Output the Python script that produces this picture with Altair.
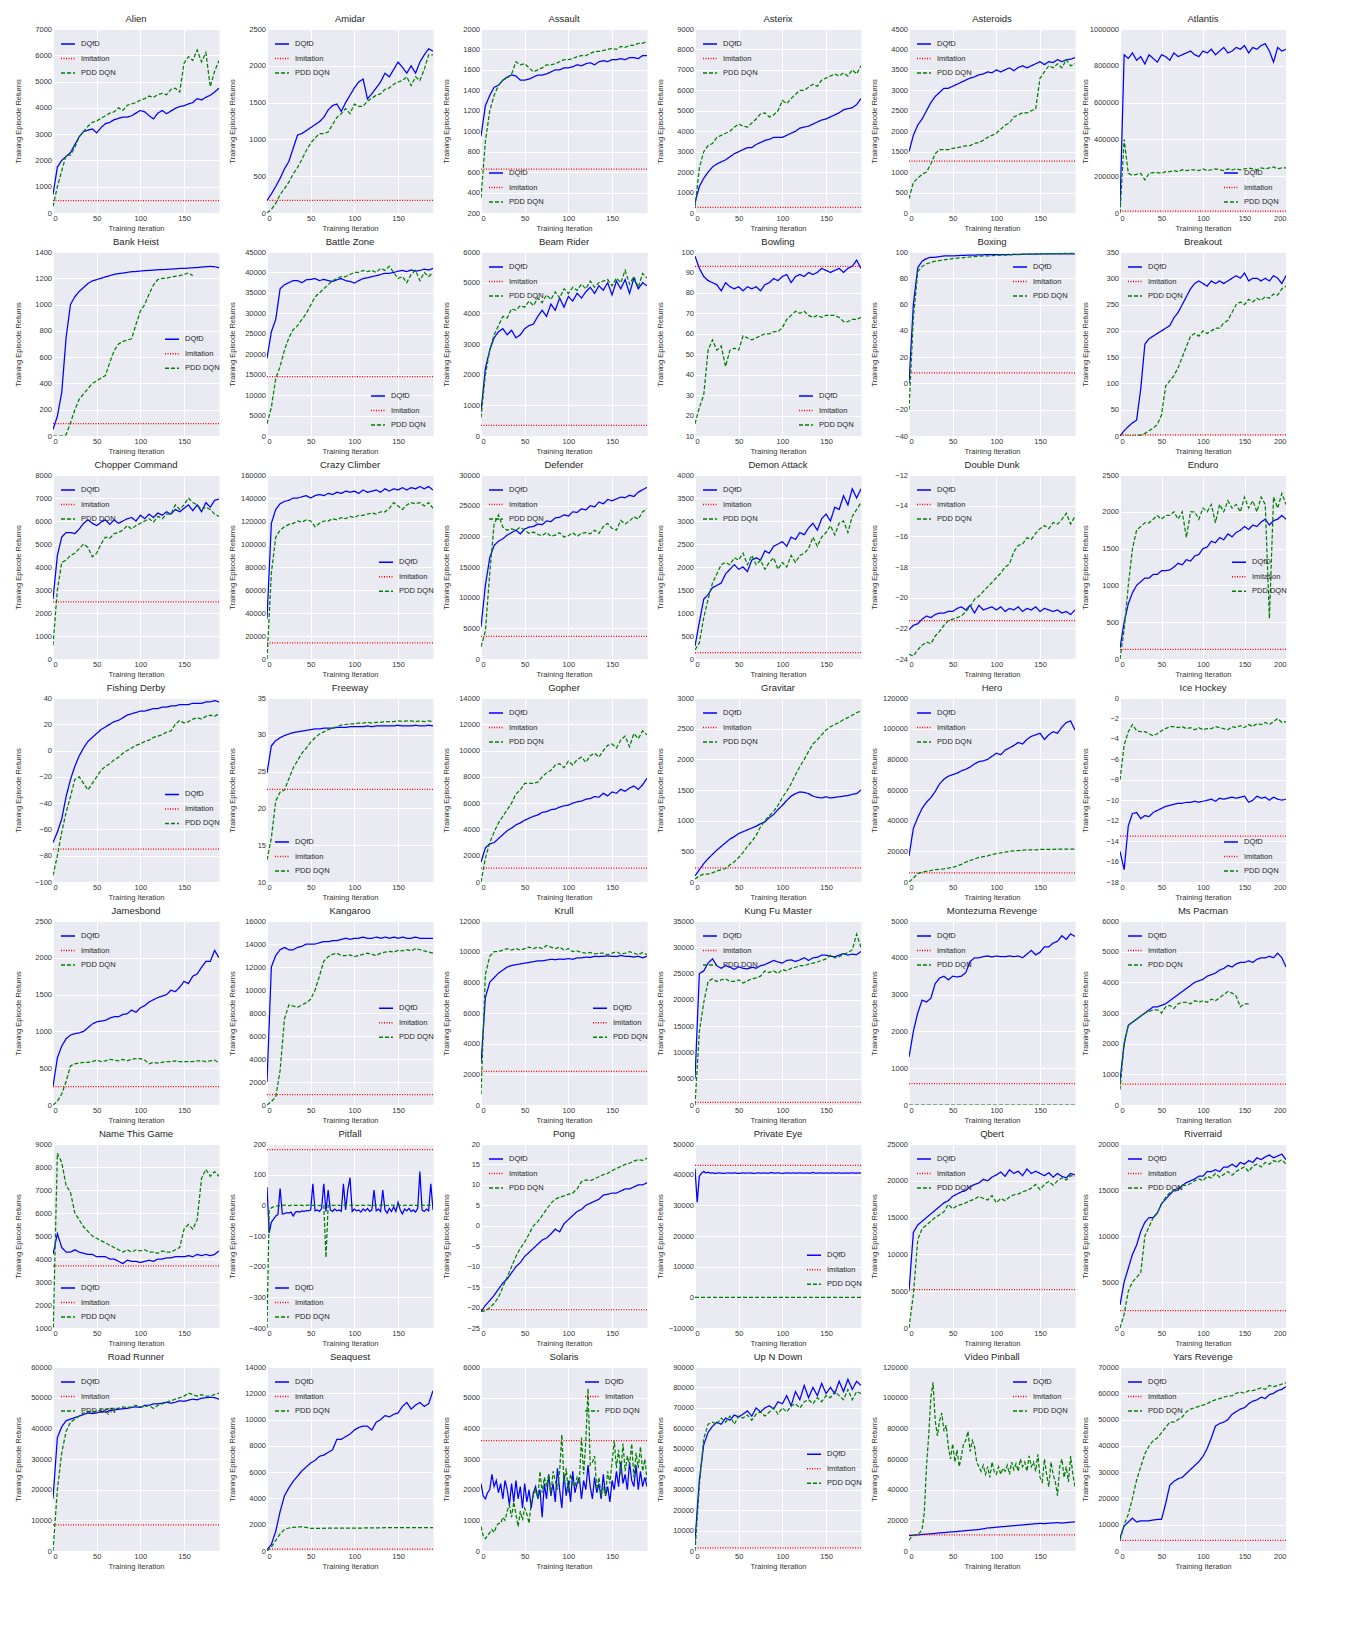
import altair as alt
import pandas as pd

FONT = "Liberation Sans"
SERIES = ["DQfD", "Imitation", "PDD DQN"]
COLORS = ["#0000ff", "#ff0000", "#008000"]
DASHES = [[1, 0], [1, 1.5], [4, 2]]
W, H = 166, 184

# ---------------- data ----------------
ALIEN_DQFD = [700,1750,2000,2150,2300,2600,2900,3100,3150,3200,3050,3250,3400,3450,3550,3600,3650,3650,3700,3800,3900,3850,3700,3580,3800,3900,3780,3880,3980,4050,4080,4150,4200,4350,4300,4400,4480,4600,4750]
ALIEN_PDD = [250,1000,1600,2200,2200,2500,2900,3100,3300,3450,3500,3600,3700,3800,3850,4000,3900,4100,4150,4200,4300,4350,4450,4400,4500,4550,4500,4700,4750,4600,5700,5950,5800,6200,5750,6100,4800,5400,5800]
AMIDAR_DQFD = [170,260,360,470,600,700,880,1060,1080,1120,1160,1200,1240,1300,1400,1460,1480,1380,1500,1600,1700,1780,1820,1550,1620,1700,1780,1900,1850,1950,2050,1980,1900,2000,1900,2050,2150,2230,2200]
AMIDAR_PDD = [0,50,130,250,330,420,530,620,730,850,950,1020,1080,1080,1100,1200,1300,1350,1420,1350,1480,1450,1450,1520,1560,1600,1620,1680,1700,1750,1780,1800,1850,1730,1850,1800,1950,2150,2150]
ASSAULT_DQFD = [950,1250,1350,1430,1450,1500,1530,1550,1540,1500,1500,1510,1530,1550,1550,1560,1580,1600,1600,1620,1620,1630,1650,1640,1660,1670,1650,1680,1690,1680,1700,1700,1710,1700,1720,1720,1710,1740,1740]
ASSAULT_PDD = [350,900,1200,1350,1450,1500,1520,1560,1680,1650,1660,1620,1580,1600,1620,1650,1650,1660,1680,1700,1700,1710,1730,1740,1740,1760,1780,1780,1790,1800,1810,1800,1830,1820,1840,1840,1860,1860,1880]
ASTERIX_DQFD = [500,1300,1700,2000,2250,2400,2500,2600,2750,2900,3000,3100,3200,3200,3350,3450,3550,3600,3700,3700,3700,3800,3900,4000,4150,4200,4250,4350,4450,4550,4600,4700,4800,4900,5050,5100,5150,5300,5600]
ASTERIX_PDD = [300,2200,3000,3300,3400,3700,3800,3900,4000,4200,4350,4250,4200,4400,4600,4850,4900,4700,4800,5000,5500,5350,5600,5800,6000,6000,6150,6300,6200,6500,6600,6700,6800,6700,6850,6700,7000,6800,7200]
ASTEROIDS_DQFD = [1500,1900,2150,2300,2500,2700,2850,2950,3050,3050,3100,3150,3200,3250,3300,3330,3380,3400,3450,3430,3500,3450,3500,3550,3480,3560,3600,3550,3600,3650,3700,3630,3700,3680,3750,3700,3750,3760,3800]
ASTEROIDS_PDD = [350,750,850,950,1000,1200,1450,1550,1550,1550,1580,1600,1620,1640,1650,1700,1720,1780,1850,1900,1950,2050,2150,2200,2350,2400,2450,2450,2500,2550,3300,3450,3600,3550,3650,3550,3750,3600,3650]
ATLANTIS_DQFD = [30000,860000,840000,870000,830000,850000,810000,860000,840000,820000,860000,850000,830000,870000,850000,860000,870000,880000,860000,850000,880000,870000,890000,860000,880000,900000,870000,880000,900000,890000,910000,870000,900000,890000,910000,920000,880000,820000,900000,880000,890000]
ATLANTIS_PDD = [0,400000,215000,205000,210000,215000,180000,215000,220000,220000,215000,225000,225000,230000,225000,235000,230000,235000,235000,230000,240000,230000,235000,240000,235000,230000,240000,235000,240000,235000,240000,245000,240000,235000,245000,240000,245000,250000,240000,245000,245000]

BANKHEIST_DQFD = [50,150,330,750,1000,1060,1100,1130,1160,1180,1190,1200,1210,1220,1230,1235,1240,1245,1250,1252,1255,1258,1260,1262,1265,1265,1268,1270,1272,1275,1275,1278,1280,1282,1285,1288,1290,1288,1280]
BANKHEIST_PDD = [0,0,0,10,100,200,280,320,360,400,420,440,460,560,650,700,720,730,740,850,950,1000,1080,1150,1190,1200,1200,1210,1215,1220,1230,1240,1220]
BATTLEZONE_DQFD = [19000,25500,28500,36000,37000,37500,38000,38000,37500,38200,38300,38500,38000,38300,38000,37800,38200,38500,38000,37800,37400,38000,38500,38700,39000,39200,39500,39800,39800,40000,40300,40500,40200,40600,40300,40500,40800,40600,41000]
BATTLEZONE_PDD = [3000,7000,14000,17000,21000,24000,26000,27000,28500,30000,32000,34000,35000,36000,37000,38000,38500,39000,39000,39500,40000,40000,40500,40200,40500,40000,41000,40500,41500,40000,38500,39000,37500,39500,40500,38000,40000,39000,40000]
BEAMRIDER_DQFD = [800,2200,2800,3200,3400,3500,3300,3450,3200,3300,3500,3600,3650,3900,4100,3900,4300,4100,4500,4200,4550,4400,4650,4500,4700,4850,4650,4900,4750,5000,4600,5050,4800,5100,4650,5150,4800,5000,4900]
BEAMRIDER_PDD = [600,2000,2800,3300,3600,3900,3850,4150,4100,4250,4200,4400,4250,4500,4350,4600,4450,4700,4500,4800,4650,4850,4750,4950,4800,5050,4850,5000,5050,5100,4900,5150,5000,5400,4950,5200,4850,5300,5150]
BOWLING_DQFD = [98,92,88,86,85,84,81,85,83,82,83,81,83,82,83,81,84,85,87,86,88,89,85,88,89,88,90,89,90,92,91,90,91,92,90,92,93,96,92]
BOWLING_PDD = [16,24,30,52,57,52,54,44,52,53,52,59,58,57,58,59,60,60,61,61,63,67,69,71,70,71,69,68,69,68,69,69,69,68,66,66,67,67,68]
BOXING_DQFD = [0,60,88,93,95,96,96,96.5,97,97,97,97.2,97.4,97.5,97.6,97.7,97.8,97.9,98,98,98,98,98,98,98.2,98.2,98.3,98.3,98.4,98.4,98.5,98.5,98.5,98.5,98.5,98.5,98.5,98.5,98.5]
BOXING_PDD = [-20,50,85,89,91,92,93,93.5,94,94.5,95,95.3,95.6,96,96.2,96.5,96.8,97,97,97.2,97.5,97.6,97.7,97.8,98,98,98.2,98.3,98.4,98.5,98.5,98.6,98.7,98.8,98.8,98.9,99,99,99]
BREAKOUT_DQFD = [0,10,18,25,30,90,175,185,190,195,200,205,210,225,235,250,265,280,290,295,290,285,295,290,295,290,295,300,305,300,310,295,300,300,295,300,295,305,300,290,305]
BREAKOUT_PDD = [0,0,0,0,0,2,5,10,15,22,40,95,105,115,130,150,170,190,195,190,200,195,200,205,205,215,220,235,250,255,250,260,255,262,258,265,262,270,268,280,285]

CHOPPER_DQFD = [2600,4500,5300,5500,5500,5450,5650,5900,6050,5900,5800,5950,6050,5850,6050,5900,6000,6100,6150,6000,6250,6100,6300,6150,6350,6250,6400,6300,6500,6400,6550,6700,6450,6700,6400,6800,6600,6900,6950]
CHOPPER_PDD = [600,3000,4200,4300,4500,4600,4800,5000,4850,4450,4600,5000,5300,5250,5450,5500,5600,5800,5650,5800,5900,6000,6100,5950,6200,6100,6300,6300,6700,6500,6700,7000,6800,6700,6500,6600,6500,6300,6200]
CRAZY_DQFD = [35000,118000,130000,135000,137000,138000,140000,140000,141000,142000,140000,142000,143000,142000,144000,143000,145000,144000,146000,145000,146000,144000,147000,145000,146000,147000,145000,148000,146000,148000,147000,149000,147000,149000,148000,150000,148000,150000,147000]
CRAZY_PDD = [0,75000,106000,112000,115000,117000,118000,120000,119000,121000,120000,115000,118000,120000,120000,122000,121000,123000,122000,124000,123000,125000,125000,126000,127000,126000,128000,128000,131000,136000,133000,130000,134000,136000,135000,136000,133000,136000,131000]
DEFENDER_DQFD = [5200,12000,16500,18500,19200,19600,20200,20600,21000,20400,21200,21500,21600,22000,21900,22500,22400,23000,23100,23500,23300,24000,23900,24500,24300,25000,24800,25600,25300,26000,25800,26100,26400,26300,26700,26500,27200,27600,28000]
DEFENDER_PDD = [2000,4500,14000,22000,23500,21500,21000,21200,21000,21500,21000,20500,20700,20300,20100,20600,20000,20200,20600,19900,20100,20600,20000,20500,20600,20400,21000,20500,21600,22100,21300,21000,22600,22000,22500,23200,22800,24000,24500]
DEMON_DQFD = [280,800,1300,1400,1550,1600,1650,1850,1950,2050,1950,2000,1900,2150,2200,2150,2350,2300,2450,2500,2550,2450,2650,2600,2750,2700,2850,2950,2800,3050,3150,3000,3300,3250,3550,3350,3700,3500,3700]
DEMON_PDD = [200,350,900,1300,1650,1850,2050,2100,2050,2200,2150,2300,2050,2250,2050,2150,1950,2100,2200,1950,2100,2000,2250,2100,2250,2300,2400,2650,2450,2650,2750,2900,2700,2950,3000,2750,3100,3250,3400]
DOUBLEDUNK_DQFD = [-22.1,-21.8,-21.7,-21.4,-21.2,-21.3,-21.1,-21.0,-21.0,-20.9,-20.9,-20.7,-20.6,-20.8,-20.5,-21.0,-20.5,-20.8,-20.7,-20.6,-20.8,-20.6,-20.9,-20.7,-20.8,-20.6,-20.9,-20.7,-20.8,-20.6,-20.9,-20.7,-20.8,-20.9,-20.8,-21.0,-20.9,-21.1,-20.8]
DOUBLEDUNK_PDD = [-23.7,-23.8,-23.4,-23.1,-22.9,-23.0,-22.5,-22.2,-21.8,-21.5,-21.4,-21.3,-21.2,-20.9,-20.6,-20.1,-19.9,-19.6,-19.3,-19.0,-18.7,-18.4,-18.0,-17.8,-17.0,-16.6,-16.5,-16.1,-16.2,-15.8,-15.5,-15.3,-15.5,-15.1,-15.2,-14.9,-14.5,-15.2,-14.7]
ENDURO_DQFD = [150,500,750,900,1000,1050,1100,1100,1150,1150,1200,1200,1210,1250,1300,1280,1350,1330,1400,1420,1500,1520,1600,1580,1650,1620,1700,1660,1720,1750,1800,1760,1820,1800,1860,1900,1820,1880,1900,1950,1900]
ENDURO_PDD = [0,400,1000,1500,1750,1800,1850,1850,1900,1950,1900,1950,1950,2000,1900,2000,1650,2000,2000,1900,2050,2000,2100,1850,2100,2000,2150,2050,2100,2000,2200,2050,2150,2000,2200,2100,550,2200,2050,2250,2100]

FISHING_DQFD = [-70,-62,-52,-35,-22,-12,-4,2,7,10,13,16,18,20,22,23,25,27,28,29,30,30,31,32,32,33,33,34,34,35,35,35,36,36,36,37,37,38,37]
FISHING_PDD = [-95,-80,-62,-47,-35,-22,-20,-25,-30,-25,-20,-15,-12,-10,-7,-5,-2,0,2,4,5,7,8,10,11,12,14,15,20,23,21,22,24,25,24,26,27,26,28]
FREEWAY_DQFD = [24.8,28.5,29.2,29.6,29.9,30.1,30.3,30.4,30.5,30.6,30.7,30.8,30.8,30.9,30.9,30.9,31.0,31.0,31.0,31.1,31.1,31.1,31.1,31.2,31.1,31.2,31.2,31.2,31.2,31.2,31.3,31.2,31.2,31.2,31.3,31.2,31.2,31.3,31.2]
FREEWAY_PDD = [13,16,21,22.2,22.5,24,25.5,26.5,27.5,28.2,29,29.6,30.1,30.4,30.7,30.9,31.1,31.3,31.4,31.5,31.5,31.6,31.6,31.7,31.6,31.7,31.7,31.8,31.8,31.8,31.9,31.8,31.9,31.9,31.8,31.9,31.8,31.9,31.8]
GOPHER_DQFD = [1500,2600,2900,3000,3300,3600,3900,4100,4350,4500,4700,4850,5000,5100,5300,5350,5500,5550,5700,5800,5850,6000,6100,6150,6300,6350,6500,6450,6750,6550,6850,6750,7050,6900,7150,7300,7050,7400,7900]
GOPHER_PDD = [0,1800,3000,3800,4500,5000,5500,6000,6700,7000,7500,7500,7500,7600,8000,8300,8500,8900,9000,8700,9200,8900,9300,9500,9100,9600,9800,9500,10000,10400,10500,10200,10800,11100,10300,11300,10900,11500,11200]
GRAVITAR_DQFD = [100,200,300,380,450,520,580,640,700,740,790,820,850,880,910,950,980,1050,1100,1180,1250,1330,1400,1440,1470,1460,1440,1400,1380,1370,1390,1370,1380,1390,1400,1410,1430,1440,1500]
GRAVITAR_PDD = [50,100,130,130,150,180,200,220,280,330,400,480,580,660,760,900,1000,1080,1150,1250,1380,1480,1600,1750,1880,2000,2130,2250,2320,2400,2480,2530,2570,2600,2650,2680,2720,2760,2790]
HERO_DQFD = [17000,35000,42000,48000,52000,55000,59000,64000,67000,69000,70000,71000,72500,73500,75000,77000,78500,79000,80000,82000,84000,83000,86000,87500,89000,91000,90000,93000,95000,96000,97000,93000,96000,98000,97000,101000,104000,105000,99000]
HERO_PDD = [0,2500,5500,6500,7000,7500,8000,8300,8600,9000,9500,10500,11500,13000,14000,15000,16000,16500,17000,18000,18500,19000,19500,20000,20300,20500,20800,21000,21000,21000,21200,21200,21300,21300,21400,21400,21500,21500,21500]
ICEHOCKEY_DQFD = [-15,-16.8,-12.5,-11.3,-11.2,-11.8,-11.5,-11.6,-11.2,-11.0,-10.8,-10.6,-10.5,-10.4,-10.3,-10.3,-10.2,-10.2,-10.1,-10.2,-10.1,-10.0,-9.9,-10.1,-9.8,-9.9,-9.8,-9.7,-9.8,-9.7,-9.6,-10.2,-10.0,-9.6,-9.8,-9.7,-10.0,-9.7,-9.9,-10.0,-9.9]
ICEHOCKEY_PDD = [-8,-4.6,-3.3,-2.6,-3.2,-3.3,-3.3,-3.5,-3.7,-3.5,-3.2,-3.0,-2.8,-2.8,-2.9,-2.8,-3.0,-2.9,-3.1,-2.9,-3.1,-3.0,-3.0,-2.8,-2.9,-3.0,-3.1,-2.8,-2.9,-2.7,-2.9,-2.6,-2.8,-2.5,-2.6,-2.4,-2.6,-2.3,-2.0,-2.4,-2.3]

JAMESBOND_DQFD = [250,640,800,900,950,970,980,1000,1050,1100,1130,1140,1150,1180,1200,1200,1230,1240,1290,1260,1320,1350,1400,1430,1460,1480,1500,1560,1540,1600,1680,1650,1750,1780,1870,1950,1950,2100,2000]
JAMESBOND_PDD = [0,50,150,320,530,560,570,580,580,590,610,590,600,620,610,600,620,600,620,630,630,610,560,580,570,580,590,590,600,590,590,590,590,600,600,590,600,610,570]
KANGAROO_DQFD = [2000,12000,13000,13500,13700,13500,13500,13700,13800,14000,14000,14000,14100,14200,14200,14300,14300,14400,14500,14400,14500,14500,14600,14500,14500,14600,14500,14600,14500,14600,14500,14600,14500,14500,14600,14500,14500,14500,14500]
KANGAROO_PDD = [0,300,700,3000,7500,8700,8600,8500,8700,8900,9200,10000,11200,12500,12900,13100,13200,13000,13000,13050,12900,13000,13100,13200,13100,13000,13200,13300,13350,13300,13450,13400,13500,13400,13600,13500,13400,13300,13200]
KRULL_DQFD = [2700,7000,8000,8300,8600,8800,9000,9100,9150,9200,9250,9300,9350,9400,9400,9450,9500,9480,9520,9500,9550,9500,9600,9600,9650,9620,9700,9680,9700,9720,9700,9680,9750,9700,9700,9650,9700,9600,9700]
KRULL_PDD = [700,8500,9700,10000,10000,10100,10200,10100,10200,10100,10200,10300,10200,10300,10200,10400,10300,10200,10300,10100,10200,10000,10050,9950,9900,9950,9850,9900,9900,9800,9900,10000,9850,9900,10000,9900,9800,9950,9800]
KUNGFU_DQFD = [5000,25000,25500,27000,27800,26500,26000,26500,26200,25800,26300,26000,25900,26200,26000,26500,26700,27100,27500,27200,27000,27500,27600,27300,27600,28000,27500,28000,28100,28500,28500,28300,28200,28500,28800,28500,28700,28600,29200]
KUNGFU_PDD = [0,14000,19500,23500,24000,23500,23800,24000,23500,23500,23800,23200,23600,24000,24200,24500,25500,25200,25500,25000,25800,25500,26000,26200,26500,26500,26800,27000,27200,27500,27800,28500,28000,28200,28600,29000,29500,32500,30000]
MONTEZUMA_DQFD = [1300,2000,2500,2850,2800,2900,3300,3450,3500,3400,3500,3480,3500,3600,3900,4000,4000,4030,4050,4020,4050,4030,4030,4050,4030,4050,4000,4100,4200,4080,4150,4300,4300,4400,4450,4600,4500,4650,4580]
MONTEZUMA_PDD = [0,0,0,0,0,0,0,0,0,0,0,0,0,0,0,0,0,0,0,0]
MSPACMAN_DQFD = [800,2000,2600,2700,2800,2900,3000,3100,3200,3200,3250,3300,3400,3500,3600,3700,3800,3900,4000,4050,4100,4200,4250,4300,4400,4450,4550,4500,4600,4650,4650,4700,4650,4750,4800,4800,4850,4800,4950,4800,4500]
MSPACMAN_PDD = [500,2000,2600,2700,2800,2900,3000,3050,3100,3100,3000,3200,3250,3150,3300,3350,3350,3300,3400,3350,3400,3350,3450,3400,3500,3600,3700,3650,3550,3200,3300,3300]

NAMETHISGAME_DQFD = [4200,5100,4500,4300,4300,4400,4300,4250,4200,4200,4100,4100,4100,4000,4000,3900,3800,3950,3900,3900,3850,3900,3950,3900,4000,4000,4050,4050,4100,4100,4100,4150,4100,4200,4150,4200,4150,4200,4350]
NAMETHISGAME_PDD = [500,8600,8200,7200,6900,6000,5700,5400,5200,5000,4900,4800,4700,4600,4500,4400,4300,4400,4300,4400,4350,4400,4300,4300,4250,4350,4300,4300,4400,4500,5300,5500,5300,5700,7500,7900,7600,7800,7600]
PITFALL_DQFD = [60,-90,-55,-45,-35,-30,55,-28,-27,-24,-25,-22,-35,-22,-20,-22,-18,-20,-17,-18,-15,70,-18,-15,-20,-10,70,-20,50,-15,-20,-12,-18,-15,-20,70,-15,50,90,-20,-12,-18,-15,-22,-12,-18,-10,-20,-15,50,-18,-12,-20,50,-15,-25,-10,-20,-5,-20,10,-15,-28,-12,-18,-10,-20,-15,-22,-10,110,-15,-20,-12,-18,70,-15]
PITFALL_PDD = [-400,-15,-8,-5,-3,-2,-1,0,1,0,-1,0,1,0,0,1,0,-1,0,1,0,0,1,0,-1,0,0,-170,0,1,0,0,1,0,-1,0,1,0,0,1,0,-1,0,1,0,0,1,0,-1,0,1,0,0,1,0,-1,0,1,0,0,1,0,-1,0,1,0,0,1,0,-1,0,1,0,0,1,0,0]
PONG_DQFD = [-21,-19.5,-18.3,-17,-15.5,-14,-13,-11.5,-10,-9,-7.5,-6.5,-5.5,-4.5,-3.5,-3,-2,-0.8,-1.5,0.5,1.5,2.5,3.5,4,5,5.5,6,6.5,7.5,7.7,8,8,8.5,9,9,9.5,10,10,10.5]
PONG_PDD = [-21,-20.8,-20,-19,-17.5,-15,-12.5,-10,-7.5,-5.5,-4,-2,0,1,2.5,4,5.5,6.5,7,7.3,7.7,8,9,10.8,11.2,11,11.5,12,12.5,12.8,13.5,14,14.5,15,15.3,15.8,16.2,16,16.5]
PRIVATEEYE_DQFD = [42000,31000,39500,40500,41000,40600,40800,40500,40600,40400,40500,40600,40500,40400,40500,40600,40500,40500,40600,40500,40400,40500,40600,40500,40500,40600,40500,40400,40500,40600,40500,40500,40600,40500,40500,40700,40500,40500,40600,40500,40400,40500,40600,40500,40500,40600,40500,40500,40600,40500,40500,40600,40500,40500,40700,40500,40500,40600,40500,40500,40600,40500,40500,40600,40500,40500,40600,40500,40500,40600,40500,40500,40600,40500,40500,40600,40500]
PRIVATEEYE_PDD = [0,0,0,0,0,0,0,0,0,0,0,0,0,0,0,0,0,0,0,0]
QBERT_DQFD = [5000,13000,14000,14500,15000,15500,16000,16500,17000,17300,17900,18200,18500,18700,19200,19500,19700,20200,20000,20500,20800,21200,20600,21500,21000,21300,20700,21600,21000,21300,21000,20700,21100,20500,21000,20600,20400,21000,20800]
QBERT_PDD = [0,4500,12000,13500,14000,14500,15000,15400,15800,16800,16200,16600,16800,17000,17300,17500,17900,17600,17400,18000,17000,17600,17300,17800,18100,18200,18500,18700,19000,19500,18800,19500,19900,19400,20000,20400,20100,20700,20600]
RIVERRAID_DQFD = [2500,5000,6500,8000,9000,10500,11500,12000,12000,12500,13500,14000,14500,15000,15000,15500,15800,16000,16200,16500,16500,17000,17000,17200,17000,17500,17500,17800,17500,18000,17800,18200,18000,18500,18300,18600,18800,18500,18700,18900,18300]
RIVERRAID_PDD = [0,1500,4000,5000,5500,6000,10000,11000,12000,12500,13500,14200,14700,15000,15200,15500,15500,15700,16000,16200,16000,16500,16300,16800,16400,16700,17000,16600,17000,17300,17500,17000,17600,17800,17500,18000,17800,18200,18000,18300,17800]

ROADRUNNER_DQFD = [17000,37000,40500,42500,43000,43500,44000,44500,45000,44800,45000,45500,45300,45800,46000,46200,46400,46500,46800,47000,46800,47500,47500,48000,48000,48200,48500,48200,48500,49000,48800,49200,49500,49300,49800,50000,50100,50000,49500]
ROADRUNNER_PDD = [0,20000,32000,39000,42000,43000,44000,45000,45500,45500,45500,46000,46000,46500,46500,46500,47000,46800,47000,47500,47000,47000,47500,46500,47500,48000,48500,49000,49500,50000,50500,51500,51000,50500,51000,50500,50500,51000,51500]
SEAQUEST_DQFD = [100,500,1500,3000,4200,4800,5300,5700,6100,6400,6700,6900,7200,7300,7500,7700,8500,8500,8700,8900,9200,9400,9500,9500,9200,9800,10000,10300,10200,10400,10500,11000,11300,10800,11100,11300,11000,11200,12200]
SEAQUEST_PDD = [0,300,800,1300,1650,1750,1800,1820,1850,1800,1720,1720,1730,1730,1740,1740,1740,1740,1750,1750,1750,1750,1750,1760,1760,1760,1760,1770,1770,1770,1770,1770,1780,1780,1780,1780,1780,1780,1780]
SOLARIS_DQFD = [2200,1800,1700,1900,2000,2500,2100,2300,1900,2200,1700,2300,2000,1500,2200,1600,2300,1700,2100,1400,2200,1600,2000,1400,1900,2100,1700,2000,1100,2200,1700,2500,1800,2200,1600,2700,2000,1400,2500,1800,2300,1600,2600,1900,2200,2400,1700,2300,2000,2800,2100,1700,2400,1900,2200,1700,2500,1800,2100,1600,2300,2000,2600,2100,2900,2200,2500,2000,2900,2300,2100,2800,2000,2600,2100,2400,2100]
SOLARIS_PDD = [800,500,400,500,600,700,600,800,900,900,1100,1000,1300,1500,1100,1600,1200,800,1300,1000,1400,1200,900,1600,1800,2000,1700,2600,1900,2400,2100,2500,1800,2600,2300,2000,2600,3800,2200,2700,1900,2500,2200,2100,2400,2200,3700,2500,3600,5300,2800,2900,3100,2000,2400,1800,2100,1800,2600,2200,2900,3600,2700,3300,2500,3500,2600,3100,2800,3500,2400,3200,2700,3400,2600,3000,2300]
UPNDOWN_DQFD = [5000,35000,52000,58000,61000,63000,62000,65000,64000,66500,65500,67000,68500,66000,70000,68000,70000,71000,69500,73000,72000,76000,71000,78000,74000,81000,75000,80000,76000,82000,77000,80000,77000,83000,78000,84000,79000,83000,81000]
UPNDOWN_PDD = [0,32000,55000,62000,63000,62000,65000,63000,66000,62000,66000,65000,66500,64000,67000,68000,66000,68000,70000,67000,70000,68000,71000,72000,70000,73000,74000,72000,75000,73000,76000,75000,78000,76000,74000,79000,74000,78000,77000]
VIDEOPINBALL_DQFD = [10000,10300,10500,10800,11000,11200,11500,11800,12000,12300,12500,12700,13000,13300,13500,13800,14000,14500,15000,15200,15500,15800,16000,16300,16500,16800,17000,17300,17500,17800,18000,17800,18200,18300,18500,18200,18500,18800,19000]
VIDEOPINBALL_PDD = [7000,9000,10000,10500,11000,12000,14000,25000,55000,75000,100000,110000,85000,75000,85000,90000,78000,82000,68000,60000,70000,58000,66000,55000,62000,70000,72000,78000,65000,72000,68000,58000,55000,52000,56000,50000,55000,48000,58000,52000,50000,55000,50000,54000,52000,56000,50000,58000,53000,57000,52000,60000,55000,58000,52000,62000,55000,58000,52000,63000,48000,45000,60000,50000,42000,58000,50000,45000,36000,55000,60000,48000,55000,45000,62000,50000,42000]
YARS_DQFD = [5000,9500,11000,12500,11000,11500,11500,11500,11800,12000,12000,18000,25000,26500,27500,28000,29500,31000,32500,34000,36000,39000,43000,47500,48500,49000,50000,52000,53000,54000,54500,56000,57000,57500,58500,58000,59500,60000,61000,61500,62500]
YARS_PDD = [4000,10000,14000,20000,27000,32000,37000,40000,42000,43000,45000,47000,49000,49000,50000,51000,53000,54000,54500,55000,55500,56000,57000,57500,58000,58500,59000,59000,60000,60500,60000,61000,61000,61500,62000,61500,63000,62500,63000,63500,64000]

# title, DQfD, DQfD step, PDD, PDD step, imitation, ymin, ymax, ystep, xmax, legend
PANELS = [
    ("Alien", ALIEN_DQFD, 5, ALIEN_PDD, 5, 470, 0, 7000, 1000, 190, "top-left"),
    ("Amidar", AMIDAR_DQFD, 5, AMIDAR_PDD, 5, 170, 0, 2500, 500, 190, "top-left"),
    ("Assault", ASSAULT_DQFD, 5, ASSAULT_PDD, 5, 630, 200, 2000, 200, 190, "bottom-left"),
    ("Asterix", ASTERIX_DQFD, 5, ASTERIX_PDD, 5, 280, 0, 9000, 1000, 190, "top-left"),
    ("Asteroids", ASTEROIDS_DQFD, 5, ASTEROIDS_PDD, 5, 1270, 0, 4500, 500, 190, "top-left"),
    ("Atlantis", ATLANTIS_DQFD, 5, ATLANTIS_PDD, 5, 10000, 0, 1000000, 200000, 200, "bottom-right"),
    ("Bank Heist", BANKHEIST_DQFD, 5, BANKHEIST_PDD, 5, 95, 0, 1400, 200, 190, 0.42),
    ("Battle Zone", BATTLEZONE_DQFD, 5, BATTLEZONE_PDD, 5, 14500, 0, 45000, 5000, 190, "bottom-right"),
    ("Beam Rider", BEAMRIDER_DQFD, 5, BEAMRIDER_PDD, 5, 350, 0, 6000, 1000, 190, "top-left"),
    ("Bowling", BOWLING_DQFD, 5, BOWLING_PDD, 5, 93, 10, 100, 10, 190, "bottom-right"),
    ("Boxing", BOXING_DQFD, 5, BOXING_PDD, 5, 8, -40, 100, 20, 190, "top-right"),
    ("Breakout", BREAKOUT_DQFD, 5, BREAKOUT_PDD, 5, 2, 0, 350, 50, 200, "top-left"),
    ("Chopper Command", CHOPPER_DQFD, 5, CHOPPER_PDD, 5, 2480, 0, 8000, 1000, 190, "top-left"),
    ("Crazy Climber", CRAZY_DQFD, 5, CRAZY_PDD, 5, 14000, 0, 160000, 20000, 190, 0.42),
    ("Defender", DEFENDER_DQFD, 5, DEFENDER_PDD, 5, 3700, 0, 30000, 5000, 190, "top-left"),
    ("Demon Attack", DEMON_DQFD, 5, DEMON_PDD, 5, 140, 0, 4000, 500, 190, "top-left"),
    ("Double Dunk", DOUBLEDUNK_DQFD, 5, DOUBLEDUNK_PDD, 5, -21.5, -24, -12, 2, 190, "top-left"),
    ("Enduro", ENDURO_DQFD, 5, ENDURO_PDD, 5, 130, 0, 2500, 500, 200, 0.42),
    ("Fishing Derby", FISHING_DQFD, 5, FISHING_PDD, 5, -75, -100, 40, 20, 190, 0.47),
    ("Freeway", FREEWAY_DQFD, 5, FREEWAY_PDD, 5, 22.6, 10, 35, 5, 190, "bottom-left"),
    ("Gopher", GOPHER_DQFD, 5, GOPHER_PDD, 5, 1050, 0, 14000, 2000, 190, "top-left"),
    ("Gravitar", GRAVITAR_DQFD, 5, GRAVITAR_PDD, 5, 230, 0, 3000, 500, 190, "top-left"),
    ("Hero", HERO_DQFD, 5, HERO_PDD, 5, 6000, 0, 120000, 20000, 190, "top-left"),
    ("Ice Hockey", ICEHOCKEY_DQFD, 5, ICEHOCKEY_PDD, 5, -13.5, -18, 0, 2, 200, "bottom-right"),
    ("Jamesbond", JAMESBOND_DQFD, 5, JAMESBOND_PDD, 5, 250, 0, 2500, 500, 190, "top-left"),
    ("Kangaroo", KANGAROO_DQFD, 5, KANGAROO_PDD, 5, 900, 0, 16000, 2000, 190, 0.42),
    ("Krull", KRULL_DQFD, 5, KRULL_PDD, 5, 2200, 0, 12000, 2000, 190, 0.42),
    ("Kung Fu Master", KUNGFU_DQFD, 5, KUNGFU_PDD, 5, 500, 0, 35000, 5000, 190, "top-left"),
    ("Montezuma Revenge", MONTEZUMA_DQFD, 5, MONTEZUMA_PDD, 10, 580, 0, 5000, 1000, 190, "top-left"),
    ("Ms Pacman", MSPACMAN_DQFD, 5, MSPACMAN_PDD, 5, 680, 0, 6000, 1000, 200, "top-left"),
    ("Name This Game", NAMETHISGAME_DQFD, 5, NAMETHISGAME_PDD, 5, 3700, 1000, 9000, 1000, 190, "bottom-left"),
    ("Pitfall", PITFALL_DQFD, 2.5, PITFALL_PDD, 2.5, 182, -400, 200, 100, 190, "bottom-left"),
    ("Pong", PONG_DQFD, 5, PONG_PDD, 5, -20.5, -25, 20, 5, 190, "top-left"),
    ("Private Eye", PRIVATEEYE_DQFD, 2.5, PRIVATEEYE_PDD, 10, 43000, -10000, 50000, 10000, 190, 0.55),
    ("Qbert", QBERT_DQFD, 5, QBERT_PDD, 5, 5200, 0, 25000, 5000, 190, "top-left"),
    ("Riverraid", RIVERRAID_DQFD, 5, RIVERRAID_PDD, 5, 1900, 0, 20000, 5000, 200, "top-left"),
    ("Road Runner", ROADRUNNER_DQFD, 5, ROADRUNNER_PDD, 5, 8500, 0, 60000, 10000, 190, "top-left"),
    ("Seaquest", SEAQUEST_DQFD, 5, SEAQUEST_PDD, 5, 150, 0, 14000, 2000, 190, "top-left"),
    ("Solaris", SOLARIS_DQFD, 2.5, SOLARIS_PDD, 2.5, 3600, 0, 6000, 1000, 190, "top-right"),
    ("Up N Down", UPNDOWN_DQFD, 5, UPNDOWN_PDD, 5, 1500, 0, 90000, 10000, 190, 0.42),
    ("Video Pinball", VIDEOPINBALL_DQFD, 5, VIDEOPINBALL_PDD, 2.5, 10500, 0, 120000, 20000, 190, "top-right"),
    ("Yars Revenge", YARS_DQFD, 5, YARS_PDD, 5, 4000, 0, 70000, 10000, 200, "top-left"),
]


def make_panel(p):
    title, dq, dqs, pdd, pds, imit, ymin, ymax, ystep, xmax, leg = p
    rows = [{"x": i * dqs, "y": v, "s": "DQfD"} for i, v in enumerate(dq)]
    rows += [{"x": 0, "y": imit, "s": "Imitation"}, {"x": xmax, "y": imit, "s": "Imitation"}]
    rows += [{"x": i * pds, "y": v, "s": "PDD DQN"} for i, v in enumerate(pdd)]
    df = pd.DataFrame(rows)

    if isinstance(leg, str):
        lkw = dict(orient=leg)
    else:
        lkw = dict(orient="none", legendX=W - 57, legendY=leg * H)
    lg = alt.Legend(title=None, symbolType="stroke", symbolSize=196, symbolStrokeWidth=1.6,
                    labelFontSize=7.5, labelFont=FONT, labelColor="#262626",
                    rowPadding=2.5, padding=2, offset=5, labelOffset=5, **lkw)

    n = int(round((ymax - ymin) / ystep))
    yt = [ymin + k * ystep for k in range(n + 1)]
    xt = [0, 50, 100, 150] + ([200] if xmax >= 200 else [])

    return (
        alt.Chart(df, title=title)
        .mark_line(strokeWidth=1.25, clip=True)
        .encode(
            x=alt.X("x:Q", scale=alt.Scale(domain=[0, xmax], nice=False),
                    axis=alt.Axis(values=xt, format="d", title="Training Iteration")),
            y=alt.Y("y:Q", scale=alt.Scale(domain=[ymin, ymax], nice=False, zero=False),
                    axis=alt.Axis(values=yt, format="d", title="Training Episode Returns",
                                  minExtent=29, maxExtent=29)),
            color=alt.Color("s:N", scale=alt.Scale(domain=SERIES, range=COLORS), legend=lg),
            strokeDash=alt.StrokeDash("s:N", scale=alt.Scale(domain=SERIES, range=DASHES), legend=lg),
        )
        .properties(width=W, height=H)
    )


charts = [make_panel(p) for p in PANELS]

chart = (
    alt.concat(*charts, columns=6, spacing=4)
    .resolve_scale(color="independent", strokeDash="independent")
    .resolve_legend(color="independent", strokeDash="independent")
    .configure_view(fill="#EAEAF2", stroke="transparent")
    .configure_axis(grid=True, gridColor="#ffffff", gridWidth=1, domain=False, ticks=False,
                    labelFont=FONT, titleFont=FONT, labelFontSize=7.5, titleFontSize=7.5,
                    labelColor="#333333", titleColor="#333333", titleFontWeight="normal",
                    labelPadding=1.5, titlePadding=2)
    .configure_title(font=FONT, fontSize=9.5, fontWeight="normal", color="#262626", offset=2)
)

chart.save("out.html", embed_options={"renderer": "svg", "actions": False})
